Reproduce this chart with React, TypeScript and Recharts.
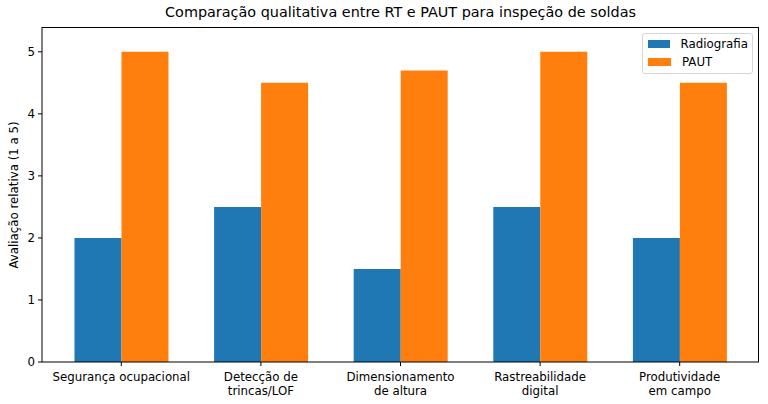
import { BarChart, Bar, XAxis, YAxis } from 'recharts';

const categories = [
  'Segurança ocupacional',
  'Detecção de\ntrincas/LOF',
  'Dimensionamento\nde altura',
  'Rastreabilidade\ndigital',
  'Produtividade\nem campo',
];
const radiografia = [2, 2.5, 1.5, 2.5, 2];
const paut = [5, 4.5, 4.7, 5, 4.5];
const yTicks = [0, 1, 2, 3, 4, 5];

const BLUE = '#1f77b4';
const ORANGE = '#ff7f0e';
const FONT = '"DejaVu Sans", sans-serif';
const FS = 11.8;

// plot box, in page pixels
const PLOT = { left: 42, top: 27, right: 759, bottom: 362 };

const data = categories.map((name, i) => ({
  name,
  Radiografia: radiografia[i],
  PAUT: paut[i],
}));

function CategoryTick(props: any) {
  const { x, y, payload } = props;
  const lines = String(payload.value).split('\n');
  return (
    <text x={x} y={y} textAnchor="middle" fontSize={FS} fontFamily={FONT} fill="#000">
      {lines.map((line, i) => (
        <tspan key={i} x={x} dy={i === 0 ? 12.5 : 14}>
          {line}
        </tspan>
      ))}
    </text>
  );
}

function LegendBox() {
  const items = [
    { label: 'Radiografia', color: BLUE },
    { label: 'PAUT', color: ORANGE },
  ];
  return (
    <div
      style={{
        position: 'absolute',
        top: 33,
        left: 642,
        width: 111,
        boxSizing: 'border-box',
        border: '1px solid #d6d6d6',
        borderRadius: 3,
        background: 'rgba(255,255,255,0.8)',
        padding: '1px 4px 2px 5px',
        fontFamily: FONT,
        fontSize: FS,
        color: '#000',
      }}
    >
      {items.map((it) => (
        <div key={it.label} style={{ display: 'flex', alignItems: 'center', height: 18 }}>
          <span style={{ width: 23, height: 8, background: it.color, marginRight: 11 }} />
          {it.label}
        </div>
      ))}
    </div>
  );
}

export default function App() {
  return (
    <div style={{ position: 'absolute', left: 0, top: 0, width: 768, height: 404, background: '#fff' }}>
      <div
        style={{
          position: 'absolute',
          top: 4,
          left: PLOT.left,
          width: PLOT.right - PLOT.left,
          textAlign: 'center',
          fontFamily: FONT,
          fontSize: 14.4,
          color: '#000',
        }}
      >
        Comparação qualitativa entre RT e PAUT para inspeção de soldas
      </div>
      <div
        style={{
          position: 'absolute',
          left: 14,
          top: 195,
          transform: 'translate(-50%, -50%) rotate(-90deg)',
          whiteSpace: 'nowrap',
          fontFamily: FONT,
          fontSize: FS,
          color: '#000',
        }}
      >
        Avaliação relativa (1 a 5)
      </div>
      <BarChart
        width={768}
        height={404}
        data={data}
        margin={{ top: PLOT.top, right: 768 - PLOT.right, bottom: 0, left: 0 }}
        barCategoryGap={23}
        barGap={0}
      >
        <XAxis
          dataKey="name"
          interval={0}
          padding={{ left: 9.5, right: 9.5 }}
          height={404 - PLOT.bottom}
          tick={<CategoryTick />}
          tickSize={4}
          axisLine={{ stroke: '#000' }}
          tickLine={{ stroke: '#000' }}
        />
        <YAxis
          domain={[0, 5.4]}
          ticks={yTicks}
          width={PLOT.left}
          tickSize={4}
          tickMargin={3}
          tick={{ fontSize: FS, fontFamily: FONT, fill: '#000' }}
          axisLine={{ stroke: '#000' }}
          tickLine={{ stroke: '#000' }}
        />
        <Bar dataKey="Radiografia" fill={BLUE} isAnimationActive={false} />
        <Bar dataKey="PAUT" fill={ORANGE} isAnimationActive={false} />
      </BarChart>
      {/* top and right spines */}
      <div
        style={{
          position: 'absolute',
          left: PLOT.left,
          top: PLOT.top - 0.5,
          width: PLOT.right - PLOT.left,
          height: PLOT.bottom - PLOT.top,
          borderTop: '1px solid #000',
          borderRight: '1px solid #000',
          boxSizing: 'border-box',
          pointerEvents: 'none',
        }}
      />
      <LegendBox />
    </div>
  );
}
